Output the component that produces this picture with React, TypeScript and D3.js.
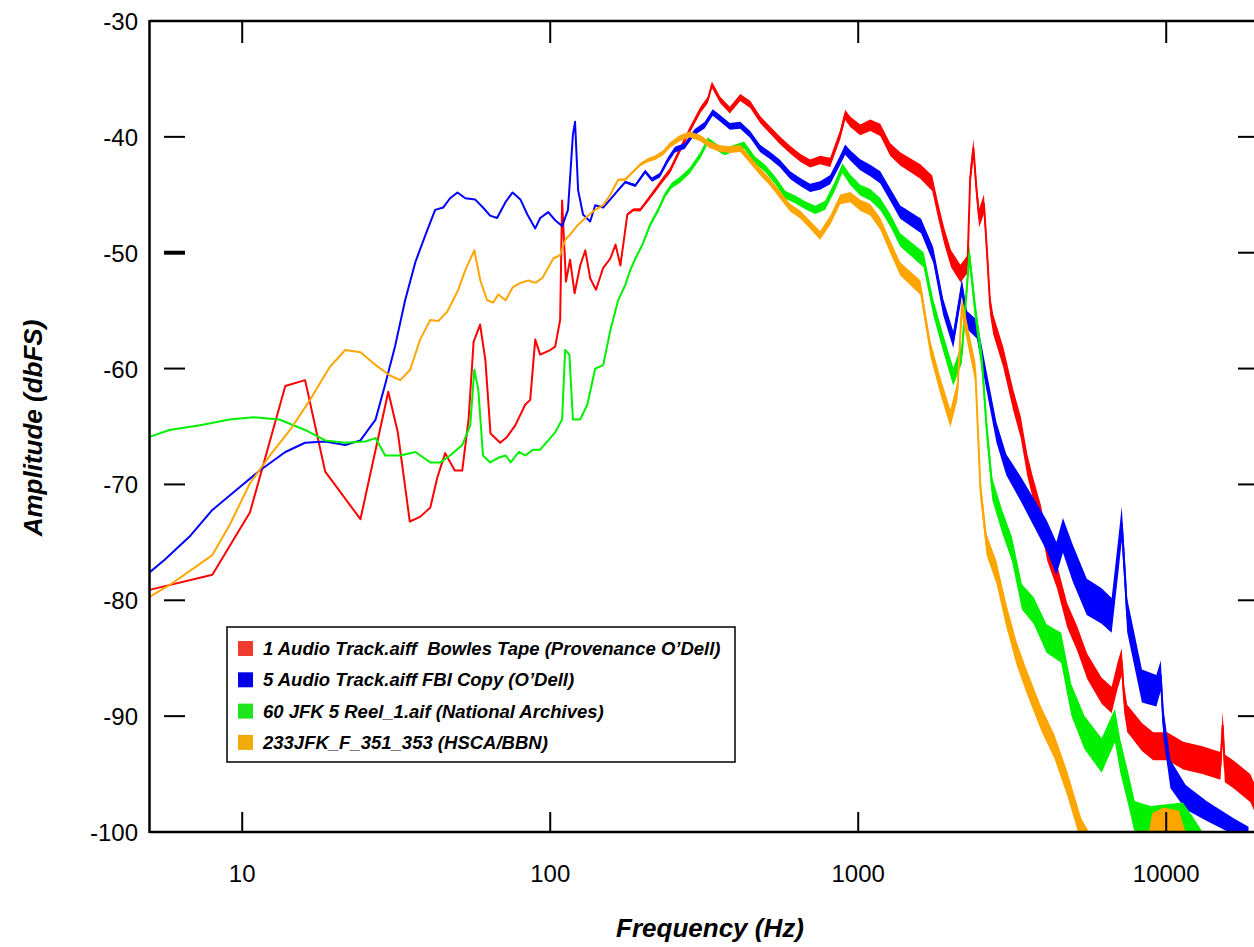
import * as d3 from "d3";

// Frequency response of four copies of the same recording
const FREQ_TICKS = [10, 100, 1000, 10000];
const DB_TICKS = [-30, -40, -50, -60, -70, -80, -90, -100];

const bowlesTape: [number, number][] = [
  [5, -79.1], [8, -77.8], [10.6, -72.4], [13.8, -61.5], [16, -61.0], [18.6, -68.9], [24.2, -73.0],
  [29.8, -62.0], [32, -65.5], [35, -73.2], [37.8, -72.8], [40.8, -72.0], [43, -69.4], [45.6, -67.3],
  [49, -68.8], [51.8, -68.8], [54.3, -64.4], [56.4, -57.7], [59.2, -56.2], [61.6, -59.3], [64, -65.6],
  [68.8, -66.4], [72.4, -65.9], [77, -64.9], [83, -63.1], [86.1, -62.7], [89.4, -57.5], [92.8, -58.8],
  [100, -58.4], [103.8, -58.1], [107.7, -55.8], [109.3, -45.5], [112.5, -52.5], [116, -50.6],
  [120, -53.5], [125.1, -51.1], [130, -49.8], [134.8, -52.2], [140.8, -53.2], [148.6, -51.3],
  [156.7, -50.5], [163, -49.3], [169, -51.1], [178, -46.7], [186, -46.3], [196, -46.3], [208, -45.4],
  [219, -44.6], [232, -43.7], [245, -42.9], [264, -41.1], [284, -39.4], [307, -37.7], [325, -36.8],
  [335, -35.5], [356, -36.8], [383, -37.7], [414, -36.6], [446, -37.2], [480, -38.5], [517, -39.4],
  [557, -40.3], [601, -41.1], [648, -41.8], [698, -42.3], [752, -42.0], [811, -42.2], [874, -39.8],
  [907, -38.1], [942, -38.7], [1015, -39.4], [1094, -39.0], [1179, -39.4], [1271, -41.1],
  [1369, -41.9], [1591, -43.0], [1739, -44.0], [1805, -46.0], [1900, -48.5], [2000, -50.5],
  [2147, -51.8], [2264, -51.0], [2310, -43.5], [2366, -41.0], [2420, -44.5], [2470, -47.0],
  [2560, -45.8], [2620, -50.0], [2680, -54.5], [2744, -56.2], [2957, -59.0], [3186, -62.7],
  [3373, -65.1], [3538, -68.3], [3700, -70.4], [3922, -72.8], [4108, -75.6], [4427, -78.0],
  [4771, -81.3], [5140, -83.3], [5540, -85.7], [6170, -87.8], [6650, -88.6], [6950, -86.5],
  [7170, -85.3], [7300, -88.5], [7470, -90.2], [8340, -91.8], [9075, -92.6], [10070, -92.6],
  [11360, -93.4], [13110, -93.8], [15000, -94.3], [15250, -90.8], [15500, -94.5], [16500, -95.0],
  [18740, -96.2], [19700, -97.5], [20000, -97.8],
];

const fbiCopy: [number, number][] = [
  [5, -77.6], [5.6, -76.5], [6.8, -74.4], [8, -72.2], [9.85, -70.2], [11.4, -68.8], [13.8, -67.2],
  [16, -66.4], [18.6, -66.3], [21.6, -66.6], [24.2, -66.2], [27.1, -64.4], [29.1, -61.4], [31.4, -58.0],
  [33.8, -54.1], [36.5, -50.8], [39.3, -48.5], [42.3, -46.3], [44.9, -46.1], [47.3, -45.3], [50, -44.8],
  [53, -45.3], [57, -45.4], [60.5, -46.1], [63.8, -46.8], [67.2, -47.0], [71.7, -45.6], [75.5, -44.8],
  [80, -45.4], [84.3, -46.7], [89.4, -47.9], [92.8, -47.0], [98.5, -46.5], [103.8, -47.2],
  [109.3, -47.7], [114.2, -46.3], [118.5, -39.8], [120.4, -38.7], [123.2, -44.6], [127.8, -46.7],
  [134.8, -47.3], [140, -45.9], [148.6, -46.1], [156.7, -45.4], [166.2, -44.6], [175.2, -43.9],
  [188.9, -44.2], [203.4, -43.0], [214, -43.7], [227, -43.3], [241, -42.0], [254, -41.1], [273, -40.8],
  [294, -39.6], [317, -39.0], [337, -37.9], [356, -38.4], [383, -39.1], [414, -39.0], [446, -39.8],
  [480, -41.0], [517, -41.6], [557, -42.3], [601, -43.3], [648, -43.9], [698, -44.4], [752, -44.2],
  [811, -43.7], [874, -42.0], [907, -41.1], [942, -41.6], [1015, -42.4], [1094, -42.9], [1179, -43.5],
  [1271, -45.0], [1369, -46.5], [1600, -47.7], [1752, -50.2], [1888, -54.7], [2035, -57.5],
  [2170, -53.0], [2255, -55.8], [2427, -56.6], [2611, -61.1], [2811, -65.5], [3026, -68.3],
  [3373, -70.4], [3714, -72.4], [4088, -74.4], [4400, -76.4], [4621, -74.4], [4973, -76.8],
  [5521, -79.7], [6170, -80.5], [6650, -81.3], [7000, -76.0], [7170, -73.4], [7350, -78.0],
  [7470, -81.3], [8340, -87.4], [9290, -87.8], [9600, -86.5], [9792, -90.6], [10320, -95.0],
  [11570, -97.0], [13550, -98.2], [16500, -99.5], [18500, -100.2],
];

const nationalArchives: [number, number][] = [
  [5, -65.9], [5.8, -65.3], [7.3, -64.9], [9.1, -64.4], [10.9, -64.2], [13.2, -64.4], [16, -65.3],
  [18.6, -66.2], [21.6, -66.4], [25.1, -66.3], [27.1, -66.0], [29.1, -67.5], [32.6, -67.5],
  [36.5, -67.2], [40.8, -68.1], [44, -68.1], [47.3, -67.5], [51.8, -66.6], [55, -64.9], [56.7, -60.1],
  [58.4, -61.8], [60.5, -67.5], [63.8, -68.1], [67.8, -67.7], [71.7, -67.5], [74.4, -68.1], [79, -67.2],
  [83, -67.5], [88, -67.0], [92.8, -67.0], [98.5, -66.2], [103.8, -65.5], [109.3, -64.4],
  [111.8, -58.4], [115.4, -58.8], [118.5, -64.4], [125.1, -64.4], [132, -63.1], [140, -60.0],
  [148.6, -59.7], [156.7, -56.7], [166.2, -54.1], [175.2, -52.8], [181.9, -51.5], [189, -50.5],
  [199.3, -49.3], [211, -47.6], [224.2, -46.3], [236, -45.0], [248, -44.2], [264, -43.7], [284, -42.9],
  [307, -41.6], [325, -40.3], [343, -40.8], [368, -41.3], [394, -41.0], [426, -40.7], [462, -42.0],
  [498, -42.7], [536, -43.7], [580, -45.0], [624, -45.4], [673, -45.9], [725, -46.3], [781, -45.9],
  [842, -44.2], [888, -42.7], [942, -43.7], [1015, -44.6], [1094, -45.0], [1179, -45.8], [1271, -47.2],
  [1369, -48.9], [1630, -50.6], [1752, -54.7], [1888, -57.8], [2035, -60.7], [2170, -58.7],
  [2295, -50.2], [2401, -55.1], [2524, -59.5], [2611, -65.1], [2725, -70.4], [2934, -73.2],
  [3158, -75.6], [3400, -79.7], [3714, -80.9], [4088, -83.3], [4560, -84.1], [4920, -88.6],
  [5426, -91.4], [6170, -93.4], [6815, -90.8], [7100, -93.5], [7520, -96.2], [7900, -98.7],
  [8890, -99.1], [10050, -98.9], [11320, -98.7], [12210, -99.9], [13000, -101],
];

const hscaBbn: [number, number][] = [
  [5, -79.7], [5.8, -78.7], [8, -76.1], [9.1, -73.5], [10.6, -69.9], [12.3, -67.5], [14.3, -65.3],
  [16.6, -62.7], [19.2, -59.9], [21.6, -58.4], [24.2, -58.6], [27.1, -59.7], [30.2, -60.6],
  [32.6, -61.0], [35.1, -60.1], [37.8, -57.5], [40.8, -55.8], [43.3, -55.9], [46.3, -55.1],
  [50.3, -53.2], [53, -51.5], [56.7, -49.8], [59.3, -52.4], [62.4, -54.1], [65.3, -54.3], [67.8, -53.6],
  [71.7, -54.1], [75.5, -53.0], [80, -52.6], [85, -52.4], [89.4, -52.6], [94.2, -52.2], [98.5, -51.3],
  [102.3, -50.5], [107.7, -50.2], [111.8, -48.9], [115.4, -48.5], [123, -47.6], [130, -47.0],
  [140, -46.3], [148.6, -45.9], [156.7, -45.0], [166.2, -43.7], [175, -43.7], [186, -43.0],
  [196, -42.4], [208, -42.0], [219, -41.8], [232, -41.4], [245, -40.7], [264, -40.1], [284, -39.8],
  [307, -40.1], [330, -40.7], [356, -41.0], [383, -41.1], [414, -41.0], [446, -42.0], [480, -43.0],
  [517, -43.9], [557, -45.0], [601, -46.1], [648, -46.7], [698, -47.6], [752, -48.5], [811, -47.2],
  [874, -45.4], [942, -45.2], [1015, -45.9], [1094, -46.3], [1179, -47.5], [1271, -49.5],
  [1369, -51.4], [1591, -53.0], [1716, -58.3], [1848, -61.5], [1992, -64.3], [2100, -61.9],
  [2170, -54.6], [2295, -57.8], [2401, -60.3], [2494, -70.4], [2611, -75.2], [2811, -77.6],
  [3026, -81.3], [3260, -84.5], [3510, -86.9], [3922, -90.2], [4330, -92.6], [4770, -95.8],
  [5300, -99.9], [5600, -101], [8800, -101], [9000, -99.5], [9800, -99.0], [11000, -99.3],
  [11500, -101],
];

// half-width (dB) of the noisy trace band, by frequency
const bowlesSpread: [number, number][] = [[5, 0], [140, 0], [250, 0.25], [700, 0.35], [1500, 0.6], [3000, 0.9], [8000, 1.2], [20000, 1.2]];
const fbiSpread: [number, number][] = [[5, 0], [140, 0], [250, 0.25], [700, 0.35], [1500, 0.6], [3000, 0.9], [5000, 1.6], [9000, 1.4], [14000, 0.8], [20000, 0.6]];
const archivesSpread: [number, number][] = [[5, 0], [140, 0], [250, 0.25], [700, 0.35], [1500, 0.6], [3000, 1.0], [6000, 1.5], [20000, 1.0]];
const hscaSpread: [number, number][] = [[5, 0], [140, 0], [250, 0.25], [700, 0.35], [1500, 0.6], [3000, 1.0], [20000, 1.2]];

const SERIES = [
  { label: "1 Audio Track.aiff  Bowles Tape (Provenance O\u2019Dell)", color: "#ff0000", key: "#f03c30", data: bowlesTape, spread: bowlesSpread },
  { label: "5 Audio Track.aiff FBI Copy (O\u2019Dell)", color: "#0000ff", key: "#0000e6", data: fbiCopy, spread: fbiSpread },
  { label: "60 JFK 5 Reel_1.aif (National Archives)", color: "#00f000", key: "#1ee61e", data: nationalArchives, spread: archivesSpread },
  { label: "233JFK_F_351_353 (HSCA/BBN)", color: "#ffa500", key: "#f0aa0a", data: hscaBbn, spread: hscaSpread },
];

const W = 1254;
const H = 947;
const LEFT = 149.5;
const TOP = 21;
const BOTTOM = 832;
const DECADE = 308;
const FONT = "'Liberation Sans', Arial, sans-serif";

export default function App() {
  const x = d3.scaleLog().domain([5, 20000]).range([LEFT, LEFT + DECADE * Math.log10(4000)]);
  const y = d3.scaleLinear().domain([-30, -100]).range([TOP, BOTTOM]);

  return (
    <svg width={W} height={H} style={{ position: "absolute", left: 0, top: 0, background: "#fff" }}>
      <defs>
        <clipPath id="plot-clip">
          <rect x={LEFT} y={TOP} width={W - LEFT} height={BOTTOM - TOP} />
        </clipPath>
      </defs>

      <g clipPath="url(#plot-clip)">
        {SERIES.map((s) => {
          const sp = d3.scaleLog().domain(s.spread.map((d) => d[0])).range(s.spread.map((d) => d[1])).clamp(true);
          const area = d3
            .area<[number, number]>()
            .x((d) => x(d[0]))
            .y0((d) => y(d[1] - sp(d[0])))
            .y1((d) => y(d[1] + sp(d[0])));
          const line = d3
            .line<[number, number]>()
            .x((d) => x(d[0]))
            .y((d) => y(d[1]));
          return (
            <g key={s.label}>
              <path d={area(s.data) ?? ""} fill={s.color} />
              <path d={line(s.data) ?? ""} fill="none" stroke={s.color} strokeWidth={2} strokeLinejoin="round" />
            </g>
          );
        })}
      </g>

      {/* frame */}
      <g stroke="#000" strokeWidth={2.5} fill="none">
        <line x1={LEFT} x2={LEFT} y1={TOP - 1} y2={BOTTOM + 1} />
        <line x1={LEFT} x2={W} y1={TOP} y2={TOP} />
        <line x1={LEFT} x2={W} y1={BOTTOM} y2={BOTTOM} />
      </g>

      {/* y ticks */}
      {DB_TICKS.filter((v) => v > -100 && v < -30).map((v) => (
        <g key={v} stroke="#000">
          <line x1={164} x2={185} y1={y(v)} y2={y(v)} strokeWidth={v === -50 ? 4 : 2} />
          <line x1={1238} x2={1258} y1={y(v)} y2={y(v)} strokeWidth={2} />
        </g>
      ))}
      {DB_TICKS.map((v) => (
        <text key={v} x={138} y={y(v) + 9} textAnchor="end" fontFamily={FONT} fontSize={24} fill="#000">
          {v}
        </text>
      ))}

      {/* x ticks */}
      {FREQ_TICKS.map((f) => (
        <g key={f}>
          <line x1={x(f)} x2={x(f)} y1={BOTTOM} y2={BOTTOM - 20} stroke="#000" strokeWidth={2} />
          <line x1={x(f)} x2={x(f)} y1={TOP} y2={TOP + 22} stroke="#000" strokeWidth={2} />
          <text x={x(f)} y={882} textAnchor="middle" fontFamily={FONT} fontSize={24} fill="#000">
            {f}
          </text>
        </g>
      ))}

      {/* axis titles */}
      <text x={710} y={937} textAnchor="middle" fontFamily={FONT} fontSize={26} fontWeight="bold" fontStyle="italic">
        Frequency (Hz)
      </text>
      <text
        transform="rotate(-90)"
        x={-428}
        y={42}
        textAnchor="middle"
        fontFamily={FONT}
        fontSize={26}
        fontWeight="bold"
        fontStyle="italic"
      >
        Amplitude (dbFS)
      </text>

      {/* legend */}
      <rect x={227} y={627} width={508} height={135} fill="#fff" stroke="#000" strokeWidth={1.5} />
      {SERIES.map((s, i) => {
        const cy = 648.5 + i * 31.3;
        return (
          <g key={s.label}>
            <rect x={238} y={cy - 7.5} width={15} height={15} fill={s.key} />
            <text
              x={263}
              y={cy + 6.5}
              fontFamily={FONT}
              fontSize={18.5}
              fontWeight="bold"
              fontStyle="italic"
              fill="#000"
              style={{ whiteSpace: "pre" }}
            >
              {s.label}
            </text>
          </g>
        );
      })}
    </svg>
  );
}
